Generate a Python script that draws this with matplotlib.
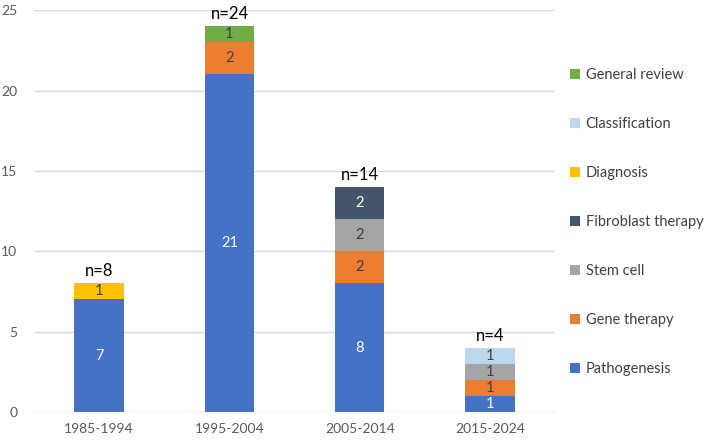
import numpy as np
import matplotlib.pyplot as plt

plt.rcParams['font.family'] = ['Lato', 'DejaVu Sans']

# Data
periods = ['1985-1994', '1995-2004', '2005-2014', '2015-2024']
categories = ['Pathogenesis', 'Gene therapy', 'Stem cell', 'Fibroblast therapy',
              'Diagnosis', 'Classification', 'General review']
pathogenesis = [7, 21, 8, 1]
gene_therapy = [0, 2, 2, 1]
stem_cell = [0, 0, 2, 1]
fibroblast = [0, 0, 2, 0]
diagnosis = [1, 0, 0, 0]
classification = [0, 0, 0, 1]
general_review = [0, 1, 0, 0]
series = [pathogenesis, gene_therapy, stem_cell, fibroblast,
          diagnosis, classification, general_review]

colors = ['#4472C4', '#ED7D31', '#A5A5A5', '#44546A', '#FFC000', '#BDD7EE', '#70AD47']
text_colors = ['white', '#404040', '#404040', 'white', '#404040', '#404040', '#404040']

fig = plt.figure(figsize=(7.09, 4.42), dpi=100)
ax = fig.add_axes([0.048, 0.068, 0.735, 0.909])

x = np.arange(len(periods))
bottom = np.zeros(len(periods))
handles = []
for vals, name, col, tcol in zip(series, categories, colors, text_colors):
    vals = np.array(vals, dtype=float)
    bars = ax.bar(x, vals, 0.38, bottom=bottom, color=col, label=name, zorder=3)
    handles.append(bars)
    for xi, v, b in zip(x, vals, bottom):
        if v > 0:
            ax.text(xi, b + v / 2, f'{int(v)}', ha='center', va='center',
                    color=tcol, fontsize=10.5, zorder=4)
    bottom += vals

# totals
for xi, tot in zip(x, bottom):
    ax.text(xi, tot + 0.25, f'n={int(tot)}', ha='center', va='bottom',
            fontsize=12, color='black')

ax.set_xlim(-0.5, 3.5)
ax.set_ylim(0, 25)
ax.set_yticks([0, 5, 10, 15, 20, 25])
ax.set_xticks(x)
ax.set_xticklabels(periods)
ax.yaxis.grid(True, color='#D9D9D9', linewidth=1, zorder=0)
for s in ax.spines.values():
    s.set_visible(False)
ax.axhline(0, color='#D9D9D9', linewidth=1, zorder=2)
ax.tick_params(length=0, colors='#595959', labelsize=10)
ax.tick_params(axis='x', pad=8)
ax.tick_params(axis='y', pad=12)

fig.legend(handles[::-1], categories[::-1], loc='upper left',
           bbox_to_anchor=(0.786, 0.875), frameon=False, fontsize=10.5,
           labelcolor='#404040', handlelength=0.65, handleheight=0.65,
           handletextpad=0.4, labelspacing=2.4)

plt.savefig('out.png', dpi=100)
